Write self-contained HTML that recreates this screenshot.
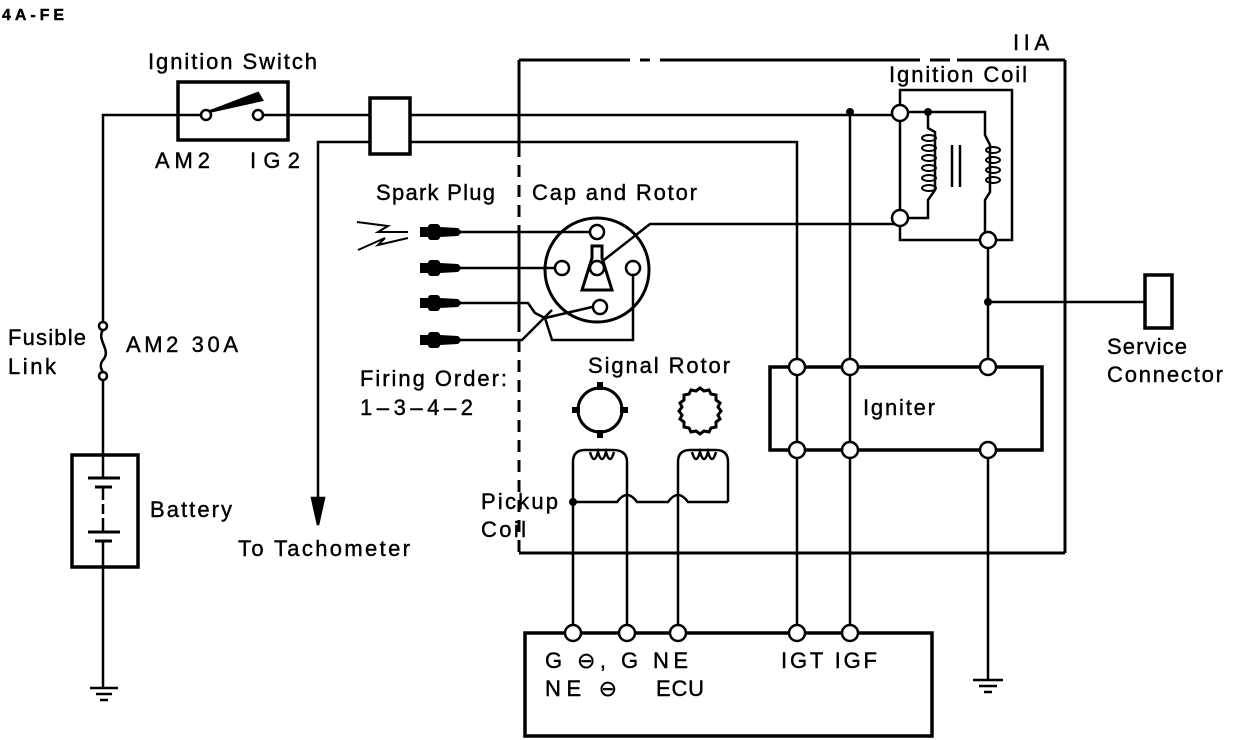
<!DOCTYPE html>
<html><head><meta charset="utf-8"><style>
html,body{margin:0;padding:0;background:#fff;}
svg{display:block;}
text{font-family:"Liberation Sans",sans-serif;font-size:22px;fill:#000;stroke:#000;stroke-width:0.4;}
</style></head><body>
<svg width="1248" height="740" viewBox="0 0 1248 740" xmlns="http://www.w3.org/2000/svg">
<g stroke="#000" fill="none" stroke-width="2.5">
<line x1="519" y1="60" x2="630" y2="60" stroke-width="3"/>
<line x1="640" y1="60" x2="650" y2="60" stroke-width="3"/>
<line x1="660" y1="60" x2="920" y2="60" stroke-width="3"/>
<line x1="930" y1="60" x2="950" y2="60" stroke-width="3"/>
<line x1="957" y1="60" x2="1065" y2="60" stroke-width="3"/>
<line x1="1065" y1="60" x2="1065" y2="553" stroke-width="3"/>
<line x1="519" y1="553" x2="1065" y2="553" stroke-width="3"/>
<line x1="519" y1="60" x2="519" y2="145" stroke-width="3"/>
<line x1="519" y1="145" x2="519" y2="230" stroke-width="3" stroke-dasharray="12 8"/>
<line x1="519" y1="230" x2="519" y2="320" stroke-width="3"/>
<line x1="519" y1="320" x2="519" y2="553" stroke-width="3" stroke-dasharray="12 8"/>

<polyline points="178,115 103,115 103,322"/>
<path d="M103,330 C96,340 112,350 103,360 C98,366 103,372 103,372"/>
<line x1="103" y1="380" x2="103" y2="455"/>
<rect x="72" y="455" width="66" height="112" stroke-width="3.5"/>
<line x1="103" y1="455" x2="103" y2="478"/>
<line x1="88" y1="478" x2="120" y2="478" stroke-width="3"/>
<line x1="95" y1="487" x2="112" y2="487" stroke-width="3"/>
<line x1="103" y1="487" x2="103" y2="500"/>
<line x1="103" y1="504" x2="103" y2="514"/>
<line x1="103" y1="518" x2="103" y2="532"/>
<line x1="88" y1="532" x2="120" y2="532" stroke-width="3"/>
<line x1="95" y1="541" x2="112" y2="541" stroke-width="3"/>
<line x1="103" y1="541" x2="103" y2="688"/>
<line x1="90" y1="688" x2="118" y2="688"/>
<line x1="96" y1="694" x2="112" y2="694"/>
<line x1="100" y1="700" x2="108" y2="700"/>

<rect x="178" y="82" width="110" height="58" stroke-width="3.5"/>
<line x1="178" y1="115" x2="201" y2="115"/>
<line x1="263" y1="115" x2="370" y2="115"/>
<path d="M208,112 L258,93 L262,100 Z" fill="#000"/>
<line x1="208" y1="112" x2="245" y2="100" stroke-width="3"/>
<rect x="370" y="98" width="40" height="56" stroke-width="3.5"/>
<line x1="410" y1="115" x2="900" y2="115"/>
<polyline points="370,142 318,142 318,500"/>
<path d="M312,498 L318,525 L324,498 Z" fill="#000"/>
<polyline points="410,142 797,142 797,633"/>
<line x1="850" y1="112" x2="850" y2="633"/>

<polyline points="900,113 900,90 1012,90 1012,240 988,240"/>
<polyline points="900,113 900,240 988,240"/>
<polyline points="900,112 985,112 985,135 990,145 990,192 985,200 985,240"/>
<polyline points="928,112 928,128 935,132 935,190 928,200 928,218 900,218"/>
<line x1="952" y1="145" x2="952" y2="187"/>
<line x1="960" y1="145" x2="960" y2="187"/>
<g stroke-width="2">
<ellipse cx="929" cy="138" rx="7" ry="3"/><ellipse cx="929" cy="148" rx="7" ry="3"/><ellipse cx="929" cy="158" rx="7" ry="3"/><ellipse cx="929" cy="168" rx="7" ry="3"/><ellipse cx="929" cy="178" rx="7" ry="3"/><ellipse cx="929" cy="188" rx="7" ry="3"/>
<ellipse cx="993" cy="150" rx="7" ry="3"/><ellipse cx="993" cy="160" rx="7" ry="3"/><ellipse cx="993" cy="170" rx="7" ry="3"/><ellipse cx="993" cy="180" rx="7" ry="3"/>
</g>
<line x1="988" y1="240" x2="988" y2="367"/>
<line x1="988" y1="302" x2="1145" y2="302"/>
<rect x="1145" y="275" width="27" height="53" stroke-width="3.5"/>

<line x1="460" y1="232" x2="590" y2="232"/>
<line x1="460" y1="268" x2="555" y2="268"/>
<polyline points="460,303 528,303 535,313 545,318 592,307"/>
<polyline points="460,340 522,340 552,310"/>
<polyline points="633,275 633,340 552,340 545,318"/>
<polyline points="604,260 650,224 900,224"/>
<circle cx="597" cy="270" r="52" stroke-width="3"/>
<path d="M592,246 L602,246 L602,258 L612,290 L582,290 L592,258 Z" stroke-width="3"/>

<rect x="770" y="367" width="272" height="83" stroke-width="3.5"/>
<line x1="988" y1="450" x2="988" y2="680"/>
<line x1="973" y1="680" x2="1003" y2="680"/>
<line x1="979" y1="686" x2="997" y2="686"/>
<line x1="984" y1="692" x2="992" y2="692"/>

<circle cx="600" cy="410" r="22" stroke-width="3"/>
<path d="M700,388 l4,3 5,-1 2,4 5,1 0,5 4,3 -2,4 3,4 -3,4 2,4 -4,3 0,5 -5,1 -2,4 -5,-1 -4,3 -4,-3 -5,1 -2,-4 -5,-1 0,-5 -4,-3 2,-4 -3,-4 3,-4 -2,-4 4,-3 0,-5 5,-1 2,-4 5,1 z" stroke-width="3"/>
<path d="M573,502 L573,462 Q573,450 585,450 L613,450 Q627,450 627,462 L627,633"/>
<path d="M678,633 L678,462 Q678,450 690,450 L716,450 Q728,450 728,462 L728,502"/>
<path d="M573,502 L617,502 Q627,488 637,502 L668,502 Q678,488 688,502 L728,502"/>
<line x1="573" y1="502" x2="573" y2="633"/>
<path d="M590,452 q4,14 8,0 q4,14 8,0 q4,14 8,0"/>
<path d="M692,452 q4,14 8,0 q4,14 8,0 q4,14 8,0"/>

<rect x="525" y="633" width="407" height="103" stroke-width="3.5"/>
<polyline points="357,222 388,226 378,232 408,232" stroke-width="2"/>
<polyline points="358,250 385,238 378,245 408,238" stroke-width="2"/>
</g>
<g fill="#000">
<rect x="597" y="382" width="6" height="8"/><rect x="597" y="430" width="6" height="8"/>
<rect x="572" y="407" width="8" height="6"/><rect x="620" y="407" width="8" height="6"/>
<circle cx="850" cy="112" r="4"/><circle cx="928" cy="112" r="4"/><circle cx="988" cy="302" r="4"/><circle cx="573" cy="502" r="4"/>
</g>
<g fill="#000">
<g transform="translate(420,232)"><rect x="0" y="-5" width="10" height="10"/><rect x="8" y="-8" width="12" height="16" rx="3"/><path d="M20,-5 L38,-4 L42,0 L38,4 L20,5 Z"/></g>
<g transform="translate(420,268)"><rect x="0" y="-5" width="10" height="10"/><rect x="8" y="-8" width="12" height="16" rx="3"/><path d="M20,-5 L38,-4 L42,0 L38,4 L20,5 Z"/></g>
<g transform="translate(420,303)"><rect x="0" y="-5" width="10" height="10"/><rect x="8" y="-8" width="12" height="16" rx="3"/><path d="M20,-5 L38,-4 L42,0 L38,4 L20,5 Z"/></g>
<g transform="translate(420,340)"><rect x="0" y="-5" width="10" height="10"/><rect x="8" y="-8" width="12" height="16" rx="3"/><path d="M20,-5 L38,-4 L42,0 L38,4 L20,5 Z"/></g>
</g>
<g fill="#fff" stroke="#000" stroke-width="2.5">
<circle cx="206" cy="115" r="5"/><circle cx="258" cy="115" r="5"/>
<circle cx="103" cy="326" r="4"/><circle cx="103" cy="376" r="4"/>
<circle cx="900" cy="113" r="8"/><circle cx="900" cy="218" r="8"/><circle cx="988" cy="240" r="8"/>
<circle cx="597" cy="232" r="7"/><circle cx="562" cy="268" r="7"/><circle cx="597" cy="268" r="7"/><circle cx="633" cy="268" r="7"/><circle cx="600" cy="307" r="7"/>
<circle cx="797" cy="367" r="8"/><circle cx="850" cy="367" r="8"/><circle cx="988" cy="367" r="8"/>
<circle cx="797" cy="450" r="8"/><circle cx="850" cy="450" r="8"/><circle cx="988" cy="450" r="8"/>
<circle cx="573" cy="633" r="8"/><circle cx="627" cy="633" r="8"/><circle cx="678" cy="633" r="8"/><circle cx="797" cy="633" r="8"/><circle cx="850" cy="633" r="8"/>
</g>
<text x="2" y="20" style="font-size:16px;font-weight:bold" textLength="62">4A-FE</text>
<text x="148" y="69" textLength="169">Ignition Switch</text>
<text x="155" y="168" textLength="55">AM2</text><text x="250" y="168" textLength="50">IG2</text>
<text x="1013" y="50" textLength="36">IIA</text>
<text x="889" y="82" textLength="138">Ignition Coil</text>
<text x="376" y="200" textLength="119">Spark Plug</text>
<text x="532" y="200" textLength="165">Cap and Rotor</text>
<text x="8" y="345" textLength="78">Fusible</text><text x="8" y="374" textLength="48">Link</text>
<text x="126" y="352" textLength="112">AM2 30A</text>
<text x="150" y="517" textLength="82">Battery</text>
<text x="238" y="556" textLength="172">To Tachometer</text>
<text x="360" y="386" textLength="147">Firing Order:</text>
<text x="360" y="415" textLength="113">1–3–4–2</text>
<text x="588" y="373" textLength="142">Signal Rotor</text>
<text x="863" y="415" textLength="72">Igniter</text>
<text x="1107" y="354" textLength="80">Service</text><text x="1107" y="382" textLength="116">Connector</text>
<text x="481" y="509" textLength="77">Pickup</text><text x="481" y="537" textLength="45">Coil</text>
<text x="545" y="668" textLength="143">G ⊖,  G  NE</text>
<text x="545" y="696" textLength="72">NE ⊖</text>
<text x="656" y="696" textLength="48">ECU</text>
<text x="781" y="668" textLength="96">IGT IGF</text>
</svg>
</body></html>
